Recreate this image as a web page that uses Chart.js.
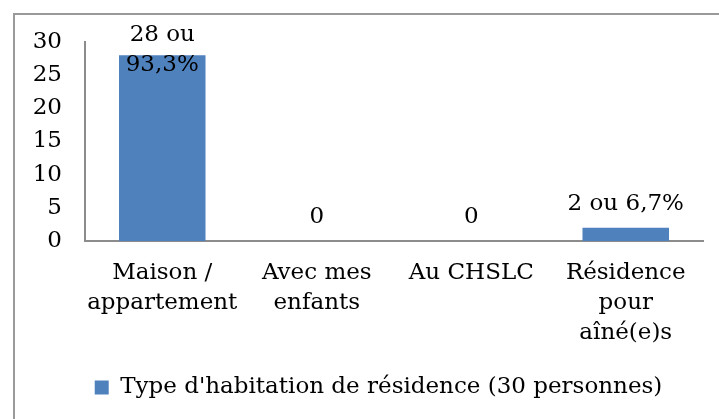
<!DOCTYPE html>
<html>
<head>
<meta charset="utf-8">
<script src="https://cdn.jsdelivr.net/npm/chart.js@4/dist/chart.umd.min.js"></script>
<style>
  html, body { margin: 0; padding: 0; background: #fff; overflow: hidden; }
  #wrap { position: relative; width: 719px; height: 419px; }
  #frame { position: absolute; left: 13px; top: 13px; width: 740px; height: 440px;
           border: 2px solid #9a9a9a; box-sizing: border-box; }
  canvas { position: absolute; left: 0; top: 0; }
</style>
</head>
<body>
<div id="wrap">
  <div id="frame"></div>
  <canvas id="chart" width="719" height="419"></canvas>
</div>
<script>
// ─── data ────────────────────────────────────────────────────────────────────
const categories = [
  ['Maison /', 'appartement'],
  ['Avec mes', 'enfants'],
  ['Au CHSLC'],
  ['Résidence', 'pour', 'aîné(e)s'],
];
const counts = [28, 0, 0, 2];
const valueLabels = [['28 ou', '93,3%'], ['0'], ['0'], ['2 ou 6,7%']];
const seriesName = "Type d'habitation de résidence (30 personnes)";
const yTicks = [0, 5, 10, 15, 20, 25, 30];

const FONT = '"DejaVu Serif", "Liberation Serif", serif';
const BAR = '#4f81bd';
const AXIS = '#8c8c8c';

// value labels above each bar, kept inside the plot top like Excel does
const barLabels = {
  id: 'barLabels',
  afterDatasetsDraw(chart) {
    const ctx = chart.ctx;
    const meta = chart.getDatasetMeta(0);
    const lh = 30;
    ctx.save();
    ctx.font = '23px ' + FONT;
    ctx.fillStyle = '#000';
    ctx.textAlign = 'center';
    ctx.textBaseline = 'middle';
    meta.data.forEach((bar, i) => {
      const lines = valueLabels[i];
      let y0 = bar.y - 24 - (lines.length - 1) * lh;
      y0 = Math.max(y0, chart.chartArea.top - 7);
      lines.forEach((t, k) => ctx.fillText(t, bar.x, y0 + k * lh));
    });
    ctx.restore();
  }
};

// Excel centres the legend a bit right of the canvas centre
const legendShift = {
  id: 'legendShift',
  afterLayout(chart) {
    chart.legend.left += 27;
    chart.legend.right += 27;
  }
};

new Chart(document.getElementById('chart'), {
  type: 'bar',
  data: {
    labels: categories,
    datasets: [{
      label: seriesName,
      data: counts,
      backgroundColor: BAR,
      borderWidth: 0,
      barPercentage: 0.56,
      categoryPercentage: 1,
    }],
  },
  options: {
    responsive: false,
    animation: false,
    layout: { padding: { top: 42, right: 16, left: 0, bottom: 10 } },
    plugins: {
      tooltip: { enabled: false },
      legend: {
        position: 'bottom',
        labels: {
          font: { family: FONT, size: 23 },
          color: '#000',
          boxWidth: 14, boxHeight: 14,
          padding: 10,
        },
      },
    },
    scales: {
      x: {
        grid: { display: false, drawTicks: false },
        border: { display: true, color: AXIS, width: 2 },
        ticks: {
          color: '#000', padding: 17, maxRotation: 0, autoSkip: false,
          font: { family: FONT, size: 23, lineHeight: 1.3 },
        },
        afterFit(scale) { scale.height = 125; },
      },
      y: {
        min: yTicks[0],
        max: yTicks[yTicks.length - 1],
        grid: { display: false, drawTicks: false },
        border: { display: true, color: AXIS, width: 2 },
        ticks: {
          stepSize: yTicks[1] - yTicks[0],
          autoSkip: false,
          color: '#000', padding: 23,
          font: { family: FONT, size: 23 },
        },
        afterFit(scale) { scale.width = 85; },
      },
    },
  },
  plugins: [barLabels, legendShift],
});
</script>
</body>
</html>
